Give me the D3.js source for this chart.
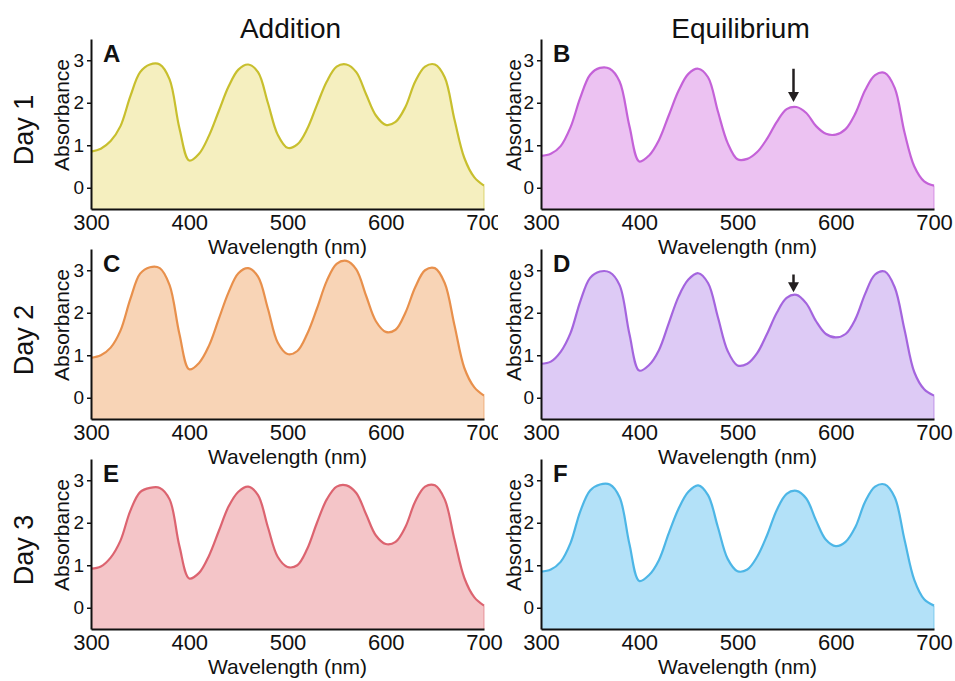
<!DOCTYPE html>
<html>
<head>
<meta charset="utf-8">
<script src="https://cdn.jsdelivr.net/npm/d3@7"></script>
<style>
  body { margin: 0; background: #fff; }
  svg { font-family: "Liberation Sans", Arial, sans-serif; }
</style>
</head>
<body>
<div id="chart"></div>
<script>
// datos:
const wavelengths = [300, 310, 320, 330, 340, 350, 360, 370, 380, 390,
  400, 410, 420, 430, 440, 450, 460, 470, 480, 490,
  500, 510, 520, 530, 540, 550, 560, 570, 580, 590,
  600, 610, 620, 630, 640, 650, 660, 670, 680, 690, 700]

const additionDay1 = [0.85, 0.92, 1.1, 1.45, 2.15, 2.72, 2.9, 2.9, 2.55, 1.4,
  0.64, 0.8, 1.22, 1.8, 2.38, 2.78, 2.9, 2.72, 2.0, 1.25,
  0.94, 1.02, 1.38, 1.95, 2.5, 2.85, 2.9, 2.72, 2.2, 1.7,
  1.48, 1.55, 1.9, 2.5, 2.85, 2.9, 2.6, 1.6, 0.7, 0.25, 0.05]
const equilibriumDay1 = [0.75, 0.8, 0.98, 1.42, 2.12, 2.66, 2.82, 2.8, 2.5, 1.45,
  0.62, 0.76, 1.12, 1.7, 2.28, 2.68, 2.8, 2.6, 1.8, 1.05,
  0.67, 0.68, 0.84, 1.15, 1.55, 1.85, 1.9, 1.76, 1.45, 1.27,
  1.25, 1.38, 1.75, 2.3, 2.65, 2.7, 2.35, 1.3, 0.5, 0.15, 0.05]
const additionDay2 = [0.94, 1.0, 1.18, 1.58, 2.32, 2.92, 3.07, 3.05, 2.65, 1.5,
  0.67, 0.82, 1.22, 1.85, 2.48, 2.93, 3.05, 2.85, 2.1, 1.3,
  1.03, 1.1, 1.5, 2.1, 2.75, 3.15, 3.22, 3.02, 2.4, 1.8,
  1.55, 1.6, 2.0, 2.6, 3.0, 3.05, 2.7, 1.7, 0.7, 0.25, 0.05]
const equilibriumDay2 = [0.8, 0.85, 1.08, 1.52, 2.27, 2.82, 2.97, 2.95, 2.65, 1.5,
  0.64, 0.77, 1.12, 1.75, 2.38, 2.78, 2.93, 2.7, 1.9, 1.1,
  0.76, 0.8, 1.05, 1.5, 2.0, 2.35, 2.42, 2.22, 1.8, 1.5,
  1.42, 1.5, 1.85, 2.45, 2.9, 2.97, 2.6, 1.6, 0.6, 0.2, 0.05]
const additionDay3 = [0.92, 0.97, 1.18, 1.58, 2.28, 2.72, 2.82, 2.82, 2.55, 1.45,
  0.69, 0.82, 1.22, 1.8, 2.38, 2.73, 2.85, 2.65, 1.9, 1.2,
  0.96, 1.0, 1.38, 2.0, 2.55, 2.85, 2.88, 2.7, 2.2, 1.7,
  1.5, 1.55, 1.9, 2.5, 2.85, 2.88, 2.55, 1.6, 0.7, 0.25, 0.05]
const equilibriumDay3 = [0.85, 0.9, 1.08, 1.52, 2.27, 2.76, 2.9, 2.9, 2.6, 1.5,
  0.63, 0.77, 1.12, 1.75, 2.33, 2.73, 2.88, 2.65, 1.9, 1.15,
  0.86, 0.9, 1.2, 1.7, 2.3, 2.68, 2.75, 2.57, 2.05, 1.6,
  1.45, 1.55, 1.9, 2.5, 2.85, 2.9, 2.6, 1.6, 0.65, 0.2, 0.05]

const columnTitles = ["Addition", "Equilibrium"]
const rowTitles = ["Day 1", "Day 2", "Day 3"]
const xTicks = [300, 400, 500, 600, 700]
const yTicks = [0, 1, 2, 3]

// flechas: [panel, longitud de onda, desde, hasta]
const arrows = [
  { panel: "B", wl: 557, from: 2.8, to: 2.02 },
  { panel: "D", wl: 557, from: 2.9, to: 2.48 }
]

const panels = [
  { id: "A", row: 0, col: 0, values: additionDay1, fill: "#f5efbf", stroke: "#c8bf2e" },
  { id: "B", row: 0, col: 1, values: equilibriumDay1, fill: "#ecc2f2", stroke: "#c462d8" },
  { id: "C", row: 1, col: 0, values: additionDay2, fill: "#f8d4b6", stroke: "#e8904c" },
  { id: "D", row: 1, col: 1, values: equilibriumDay2, fill: "#ddcaf5", stroke: "#a465de" },
  { id: "E", row: 2, col: 0, values: additionDay3, fill: "#f4c5c8", stroke: "#dc6470" },
  { id: "F", row: 2, col: 1, values: equilibriumDay3, fill: "#b3e1f8", stroke: "#4db6e6" }
]

// Constantes:
const width = 955
const height = 681
const colLeft = [91, 541]
const plotW = 393
const rowTop = [39, 249, 459]
const plotH = 170

let svg = d3.select('div#chart').append('svg').attr('width', width).attr('height', height)

svg.append('defs').append('clipPath').attr('id', 'leftClip')
  .append('rect').attr('x', 0).attr('y', 0).attr('width', 498).attr('height', height)

// títulos de columnas y filas
columnTitles.forEach((t, i) => {
  svg.append('text').attr('x', colLeft[i] + plotW / 2 + 3).attr('y', 38)
    .attr('text-anchor', 'middle').attr('font-size', 28).attr('fill', '#111').text(t)
})
rowTitles.forEach((t, i) => {
  svg.append('text')
    .attr('transform', `translate(33, ${rowTop[i] + 91}) rotate(-90)`)
    .attr('text-anchor', 'middle').attr('font-size', 27).attr('fill', '#111').text(t)
})

panels.forEach(p => {
  let x = d3.scaleLinear().domain([300, 700]).range([0, plotW])
  let y = d3.scaleLinear().domain([-0.5, 3.5]).range([plotH, 0])

  let outer = svg.append('g')
  // las dos primeras filas de la izquierda quedan tapadas por la columna derecha
  if (p.col === 0 && p.row < 2) outer.attr('clip-path', 'url(#leftClip)')
  let g = outer.append('g')
    .attr('transform', `translate(${colLeft[p.col]}, ${rowTop[p.row]})`)

  let data = wavelengths.map((w, i) => ({ wl: w, v: p.values[i] }))

  let curve = d3.curveCatmullRom.alpha(0.5)
  let area = d3.area().x(d => x(d.wl)).y0(y(-0.5)).y1(d => y(d.v)).curve(curve)
  let line = d3.line().x(d => x(d.wl)).y(d => y(d.v)).curve(curve)

  g.append('path').datum(data).attr('d', area).attr('fill', p.fill)
  g.append('path').datum(data).attr('d', line).attr('fill', 'none')
    .attr('stroke', p.stroke).attr('stroke-width', 2.2)
  // borde derecho
  g.append('line').attr('x1', x(700)).attr('x2', x(700))
    .attr('y1', y(p.values[p.values.length - 1])).attr('y2', y(-0.5))
    .attr('stroke', p.stroke).attr('stroke-width', 1).attr('opacity', 0.6)

  // ejes
  let xAxis = d3.axisBottom(x).tickValues(xTicks).tickSize(0).tickPadding(5)
  let yAxis = d3.axisLeft(y).tickValues(yTicks).tickFormat(d3.format('d'))
    .tickSize(4).tickSizeOuter(0).tickPadding(3)

  let xg = g.append('g').attr('transform', `translate(0, ${plotH})`).call(xAxis)
  let yg = g.append('g').call(yAxis)
  ;[xg, yg].forEach(a => {
    a.select('.domain').attr('stroke', '#111').attr('stroke-width', 2)
    a.selectAll('.tick line').attr('stroke', '#111').attr('stroke-width', 1.5)
    a.selectAll('text').attr('fill', '#111').attr('font-family', '"Liberation Sans", Arial, sans-serif')
  })
  xg.selectAll('text').attr('font-size', 22)
  yg.selectAll('text').attr('font-size', 19)

  g.append('text').attr('x', plotW / 2).attr('y', plotH + 45)
    .attr('text-anchor', 'middle').attr('font-size', 21).attr('fill', '#111').text('Wavelength (nm)')
  g.append('text')
    .attr('transform', `translate(${p.col === 0 ? -22 : -20}, 76) rotate(-90)`)
    .attr('text-anchor', 'middle').attr('font-size', 21).attr('fill', '#111').text('Absorbance')

  g.append('text').attr('x', 12).attr('y', 23)
    .attr('font-size', 24).attr('font-weight', 'bold').attr('fill', '#111')
    .attr('font-family', '"Liberation Sans Narrow", "Liberation Sans", Arial, sans-serif')
    .text(p.id)

  arrows.filter(a => a.panel === p.id).forEach(a => {
    let ax = x(a.wl), y1 = y(a.from), y2 = y(a.to)
    g.append('line').attr('x1', ax).attr('x2', ax).attr('y1', y1).attr('y2', y2 - 8)
      .attr('stroke', '#231f20').attr('stroke-width', 2.5)
    g.append('path').attr('d', `M${ax - 5.5},${y2 - 10} L${ax + 5.5},${y2 - 10} L${ax},${y2} Z`)
      .attr('fill', '#231f20')
  })
})
</script>
</body>
</html>
